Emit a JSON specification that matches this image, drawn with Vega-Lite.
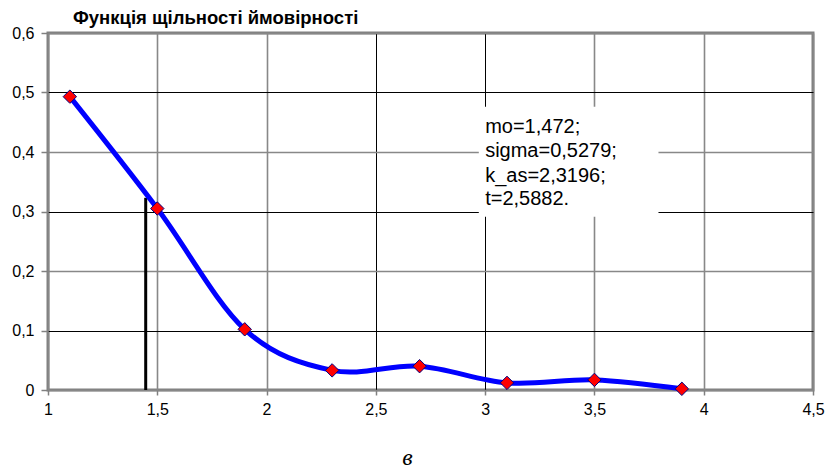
{
  "$schema": "https://vega.github.io/schema/vega-lite/v6.json",
  "width": 765,
  "height": 357,
  "autosize": {"type": "none"},
  "padding": {"left": 48, "top": 33, "right": 19, "bottom": 83},
  "background": "white",
  "title": {"text": "Функція щільності ймовірності", "anchor": "start", "frame": "group", "dx": 25, "offset": -2, "font": "Liberation Sans", "fontSize": 18.5, "fontWeight": "bold", "color": "black"},
  "config": {
    "view": {"stroke": "#808080", "strokeWidth": 3},
    "axis": {"labelFont": "Liberation Sans", "labelFontSize": 16, "labelColor": "black", "domain": false, "tickColor": "#808080", "tickWidth": 1.5}
  },
  "datasets": {
    "pts": [
      {"x": 1.1, "y": 0.493},
      {"x": 1.5, "y": 0.305},
      {"x": 1.9, "y": 0.102},
      {"x": 2.3, "y": 0.033},
      {"x": 2.7, "y": 0.040},
      {"x": 3.1, "y": 0.012},
      {"x": 3.5, "y": 0.017},
      {"x": 3.9, "y": 0.002}
    ],
    "vline": [{"x": 1.447, "y0": 0, "y1": 0.323}],
    "box": [{"x1": 2.971, "x2": 3.793, "y1": 0.291, "y2": 0.476}],
    "txt": [
      {"x": 3.0, "y": 0.432, "t": "mo=1,472;"},
      {"x": 3.0, "y": 0.392, "t": "sigma=0,5279;"},
      {"x": 3.0, "y": 0.350, "t": "k_as=2,3196;"},
      {"x": 3.0, "y": 0.311, "t": "t=2,5882."}
    ]
  },
  "layer": [
    {
      "data": {"name": "box"},
      "mark": {"type": "rect", "fill": "white", "stroke": null},
      "encoding": {
        "x": {"field": "x1", "type": "quantitative", "scale": {"domain": [1, 4.5], "nice": false, "zero": false},
          "axis": {"values": [1, 1.5, 2, 2.5, 3, 3.5, 4, 4.5], "labelExpr": "replace(toString(datum.value), '.', ',')", "tickSize": 5, "labelPadding": 6, "labelFlush": false,
            "gridColor": {"condition": {"test": "datum.value == 2.5 || datum.value == 3", "value": "#000000"}, "value": "#888888"},
            "gridWidth": {"condition": {"test": "datum.value == 2.5 || datum.value == 3", "value": 1}, "value": 1.6},
            "title": "в", "titleFont": "Liberation Serif", "titleFontStyle": "italic", "titleFontWeight": "normal", "titleFontSize": 24, "titleColor": "black", "titlePadding": 28, "titleX": 359}},
        "x2": {"field": "x2"},
        "y": {"field": "y1", "type": "quantitative", "scale": {"domain": [0, 0.6], "nice": false},
          "axis": {"values": [0, 0.1, 0.2, 0.3, 0.4, 0.5, 0.6], "labelExpr": "replace(toString(datum.value), '.', ',')", "tickSize": 7, "labelPadding": 7, "title": null,
            "gridColor": {"condition": {"test": "abs(round(datum.value * 10)) % 2 == 1", "value": "#000000"}, "value": "#888888"},
            "gridWidth": {"condition": {"test": "abs(round(datum.value * 10)) % 2 == 1", "value": 1}, "value": 1.6}}},
        "y2": {"field": "y2"}
      }
    },
    {
      "data": {"name": "vline"},
      "mark": {"type": "rule", "color": "black", "strokeWidth": 3},
      "encoding": {
        "x": {"field": "x", "type": "quantitative"},
        "y": {"field": "y0", "type": "quantitative"},
        "y2": {"field": "y1"}
      }
    },
    {
      "data": {"name": "pts"},
      "mark": {"type": "line", "color": "#0000FF", "strokeWidth": 5, "interpolate": "cardinal"},
      "encoding": {
        "x": {"field": "x", "type": "quantitative"},
        "y": {"field": "y", "type": "quantitative"}
      }
    },
    {
      "data": {"name": "pts"},
      "mark": {"type": "point", "shape": "diamond", "filled": true, "fill": "#FF0000", "stroke": "#000080", "strokeWidth": 1, "size": 180, "opacity": 1},
      "encoding": {
        "x": {"field": "x", "type": "quantitative"},
        "y": {"field": "y", "type": "quantitative"}
      }
    },
    {
      "data": {"name": "txt"},
      "mark": {"type": "text", "align": "left", "baseline": "alphabetic", "font": "Liberation Sans", "fontSize": 20, "color": "black"},
      "encoding": {
        "x": {"field": "x", "type": "quantitative"},
        "y": {"field": "y", "type": "quantitative"},
        "text": {"field": "t"}
      }
    }
  ]
}
